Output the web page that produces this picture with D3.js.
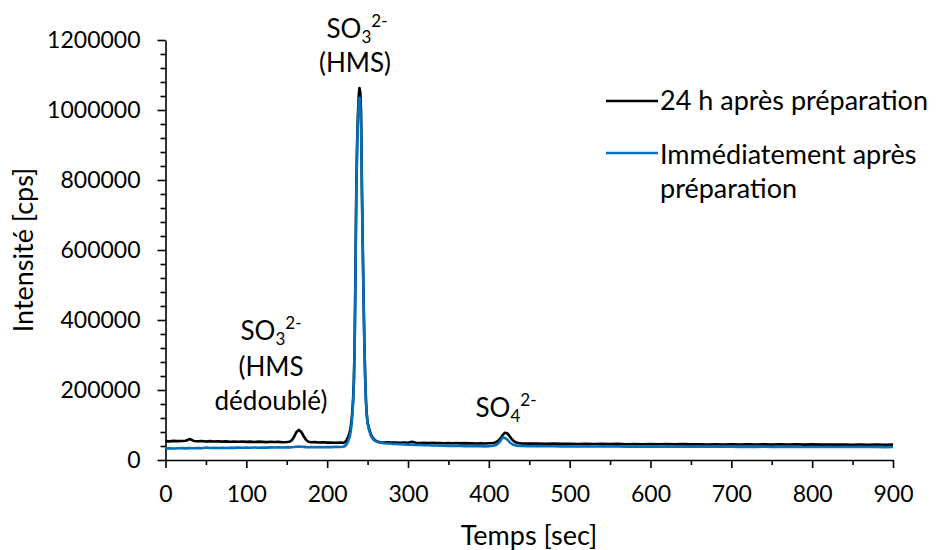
<!DOCTYPE html>
<html><head><meta charset="utf-8">
<script src="https://cdn.jsdelivr.net/npm/d3@7"></script>
<style>
body{margin:0;background:#fff;}
text{font-family:Lato,"Open Sans",sans-serif;fill:#000;}
</style></head>
<body><svg id="chart" width="937" height="550"></svg>
<script>
const times = [0,5,10,15,20,25,30,35,40,45,50,55,60,65,70,75,80,85,90,95,100,105,110,115,120,125,130,135,140,145,150,
153,156,159,162,165,168,171,174,177,180,
185,190,195,200,205,210,215,220,
222,224,226,228,229,230,231,232,233,234,235,236,237,238,239,240,241,242,243,244,245,246,247,248,249,250,
252,254,256,258,260,263,266,
270,275,280,285,290,295,300,305,310,315,320,325,330,335,340,345,350,355,360,365,370,375,380,385,390,395,400,405,
408,411,414,417,420,423,426,429,432,435,438,
440,450,460,470,480,490,500,510,520,530,540,550,560,570,580,590,600,610,620,630,640,650,660,670,680,690,700,710,720,730,740,750,760,770,780,790,800,810,820,830,840,850,860,870,880,890,900];

const after24h = [54000,53200,54600,53800,54200,55000,60000,54500,53600,54100,53000,53800,52900,53400,52600,53200,52300,53000,52000,52700,51800,52400,51500,52600,51800,51200,52000,51300,51700,50800,51400,
52000,56000,66000,80000,86000,80000,68000,57000,52000,50500,
51000,49800,50600,49600,50200,49200,49800,49400,
51000,56000,66000,80000,92000,110000,135000,170000,225000,330000,540000,770000,900000,985000,1040000,1063000,1050000,990000,780000,620000,470000,340000,240000,170000,130000,108000,
88000,74000,65000,59000,55000,52000,50500,
50000,50800,49600,50200,49300,49900,49000,52000,49400,48600,49200,48400,48900,48100,48700,47900,48500,47800,48400,47600,48200,47400,48000,47300,47900,47200,47800,48500,
50000,54000,61000,71000,78000,76000,67000,58000,52000,49000,47800,
47500,46800,47300,46400,46900,46000,46600,45800,46300,45500,46200,45400,46000,45200,45800,45000,45600,44900,45500,44700,45300,44600,45100,44500,45000,44300,44900,44200,44800,44100,44700,44000,45200,44300,44800,44000,44600,43900,44500,43800,44400,43700,44300,43600,44200,43500,44000];

const immediate = [33000,33600,32800,33400,33800,33200,34000,33500,34200,33700,35500,34300,34800,34200,34900,34400,35100,34600,35300,34800,35500,35000,35700,35200,35900,35400,36000,35600,36200,35800,36300,
36000,36600,37200,38000,38400,38000,37400,36900,36600,36800,
36400,37000,36600,37200,36800,37400,37000,37800,
40000,45000,54000,68000,80000,98000,124000,160000,215000,320000,525000,750000,880000,965000,1020000,1035000,1015000,950000,760000,600000,455000,330000,235000,168000,128000,105000,
84000,70000,62000,57000,54000,51000,49500,
48000,47300,46200,45900,45000,44700,43900,43700,43000,42900,42200,42100,41500,41500,40900,40900,40400,40400,39900,40000,39500,39600,39200,39300,39100,38900,39300,40500,
42000,46000,53000,64500,63000,58000,50000,45000,42500,41000,40200,
40000,39400,39800,39100,39500,38900,39300,38700,39100,38600,39000,38400,38800,38300,38700,38200,38600,38100,38500,38000,38400,37900,38300,37800,38200,37700,38100,37600,38000,37500,37900,37400,37800,37300,37700,37200,38000,37300,37700,37200,37600,37100,37500,37000,37400,36900,37300];

const xTicks = [0,100,200,300,400,500,600,700,800,900];
const yTicks = [0,200000,400000,600000,800000,1000000,1200000];
const seriesNames = ["24 h après préparation", "Immédiatement après", "préparation"];
const seriesColors = ["#000000", "#0070C0"];

const svg = d3.select("#chart");
const x = d3.scaleLinear().domain([0,900]).range([165.5,893]);
const y = d3.scaleLinear().domain([0,1200000]).range([460,40]);

const FT = 23;
const FL = 27;
const FA = 26;

const xMinor = d3.range(50, 900, 100);
const yMinor = d3.range(0, 1200001, 40000).filter(v => v % 200000 !== 0);

const gx = svg.append("g").attr("transform","translate(0,460)");
gx.call(d3.axisBottom(x).tickValues(xTicks).tickSize(8).tickSizeOuter(0).tickFormat(d3.format("d")));
gx.append("g").call(d3.axisBottom(x).tickValues(xMinor).tickSize(5).tickSizeOuter(0).tickFormat(""))
  .select(".domain").remove();
gx.selectAll("text").attr("font-size",FT).attr("font-family","Lato").attr("fill","#000").attr("y",42).attr("dy","0");
gx.selectAll("line,path").attr("stroke","#000").attr("stroke-width",1.6);

const gy = svg.append("g").attr("transform","translate(165.5,0)");
gy.call(d3.axisLeft(y).tickValues(yTicks).tickSize(8).tickSizeOuter(0).tickFormat(d3.format("d")));
gy.append("g").call(d3.axisLeft(y).tickValues(yMinor).tickSize(5).tickSizeOuter(0).tickFormat(""))
  .select(".domain").remove();
gy.selectAll("text").attr("font-size",FT).attr("font-family","Lato").attr("fill","#000").attr("x",-25);
gy.selectAll("line,path").attr("stroke","#000").attr("stroke-width",1.6);

const line = d3.line().x((d,i)=>x(times[i])).y(d=>y(d));
svg.append("path").datum(after24h).attr("d",line).attr("fill","none")
  .attr("stroke",seriesColors[0]).attr("stroke-width",2.6).attr("stroke-linejoin","round");
svg.append("path").datum(immediate).attr("d",line).attr("fill","none")
  .attr("stroke",seriesColors[1]).attr("stroke-width",2.6).attr("stroke-linejoin","round");

svg.append("text").attr("x",529).attr("y",545).attr("text-anchor","middle").attr("font-size",FL).text("Temps [sec]");
svg.append("text").attr("transform","translate(33,250) rotate(-90)").attr("text-anchor","middle").attr("font-size",FL).text("Intensité [cps]");

svg.append("line").attr("x1",606).attr("x2",658).attr("y1",101).attr("y2",101).attr("stroke",seriesColors[0]).attr("stroke-width",2.5);
svg.append("text").attr("x",660).attr("y",110).attr("font-size",FL).text(seriesNames[0]);
svg.append("line").attr("x1",606).attr("x2",658).attr("y1",153).attr("y2",153).attr("stroke",seriesColors[1]).attr("stroke-width",2.5);
svg.append("text").attr("x",660).attr("y",164).attr("font-size",FL).text(seriesNames[1]);
svg.append("text").attr("x",660).attr("y",198).attr("font-size",FL).text(seriesNames[2]);

function ion(cx, by, base, sub, sup){
  const t = svg.append("text").attr("x",cx).attr("y",by).attr("text-anchor","middle").attr("font-size",FA);
  t.append("tspan").text(base);
  t.append("tspan").attr("font-size",17).attr("dy",5).text(sub);
  t.append("tspan").attr("font-size",17).attr("dy",-16).text(sup);
}
function label(cx, by, s){
  svg.append("text").attr("x",cx).attr("y",by).attr("text-anchor","middle").attr("font-size",FA).text(s);
}
ion(357, 38, "SO", "3", "2-");
label(355, 72, "(HMS)");
ion(271, 340, "SO", "3", "2-");
label(271, 376, "(HMS");
label(271, 410, "dédoublé)");
ion(506, 417, "SO", "4", "2-");
</script></body></html>
